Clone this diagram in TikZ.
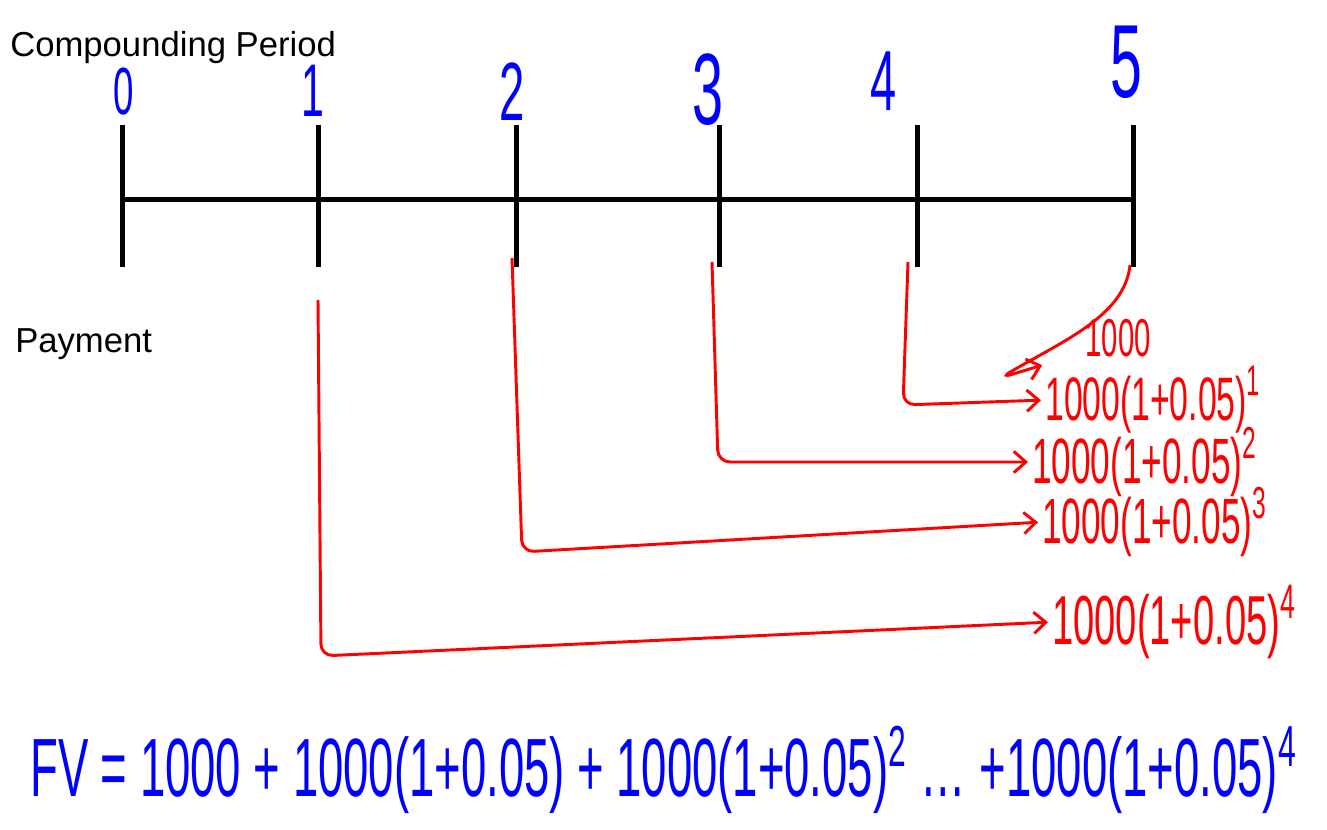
\documentclass[tikz,border=0pt]{standalone}
\usepackage{fontspec}
\setmainfont{Liberation Sans}
\newfontfamily\handfont[FakeStretch=0.55]{Liberation Sans}
\usetikzlibrary{arrows.meta, calc}
\definecolor{inkblack}{HTML}{000000}
\definecolor{inkblue}{HTML}{0000FF}
\definecolor{inkred}{HTML}{FF0000}
\newcommand\expo[1]{\textsuperscript{\raisebox{0.3em}{#1}}}
\tikzset{
  axis/.style={line width=3.75pt, inkblack},
  tickmark/.style={line width=3.75pt, inkblack},
  heading/.style={font=\fontsize{26}{30}\selectfont, text=inkblack, inner sep=0pt, anchor=base west},
  period/.style={font=\handfont\fontsize{#1}{#1}\selectfont, text=inkblue, inner sep=0pt, anchor=south},
  term/.style={font=\handfont\fontsize{#1}{#1}\selectfont, text=inkred, inner sep=0pt, anchor=west},
  flow/.style={-{Straight Barb[length=9pt,width=16pt,line width=2.2pt]}, line width=2.2pt, inkred,
    rounded corners=9pt, shorten >=3pt},
  sumline/.style={font=\handfont\fontsize{62}{68}\selectfont, text=inkblue, inner sep=0pt, anchor=west},
}

\begin{document}
\begin{tikzpicture}[x=0.75pt, y=-0.75pt]
\useasboundingbox (0,0) rectangle (1327,830);

% ── headings ────────────────────────────────────────────────────
\node[heading] (cphead)  at (10,57)  {Compounding Period};
\node[heading] (payhead) at (15,353) {Payment};

% ── time line ───────────────────────────────────────────────────
\coordinate (axisL) at (122,200);
\coordinate (axisR) at (1133,200);
\draw[axis] (axisL) -- (axisR);
\foreach \n/\x in {0/122, 1/318, 2/516, 3/719, 4/917, 5/1133} {
  \coordinate (top\n) at (\x,125);
  \coordinate (bot\n) at (\x,267);
  \draw[tickmark] (top\n) -- (bot\n);
}

% ── period numbers ──────────────────────────────────────────────
\node[period=50] (per0) at (124,115) {0};
\node[period=56] (per1) at (313,117) {1};
\node[period=62] (per2) at (512,121) {2};
\node[period=76] (per3) at (708,126) {3};
\node[period=64] (per4) at (884,111) {4};
\node[period=78] (per5) at (1126,99) {5};

% ── future values of each payment ───────────────────────────────
\node[term=40, anchor=center] (lab0) at (1118,338) {1000};
\node[term=46] (lab1) at (1045,400) {1000(1+0.05)\expo{1}};
\node[term=48] (lab2) at (1032,462) {1000(1+0.05)\expo{2}};
\node[term=48] (lab3) at (1042,522) {1000(1+0.05)\expo{3}};
\node[term=52] (lab4) at (1052,622) {1000(1+0.05)\expo{4}};

% ── payment connectors (hand-drawn style, red) ──────────────────
\coordinate (src1) at (318,300);
\coordinate (src2) at (512,258);
\coordinate (src3) at (712,262);
\coordinate (src4) at (908,262);
\coordinate (src5) at (1130,265);
\coordinate (bend1) at (321,656);
\coordinate (bend2) at (522,552);
\coordinate (bend3) at (718,462);
\coordinate (bend4) at (903,405);
\coordinate (bend5) at (1000,378);
\coordinate (tip5)  at (1046,364);

\draw[flow] (src5) .. controls (1125,315) and (1065,340) .. (bend5) -- (tip5);
\draw[flow] (src4) -- (bend4) -- (lab1.west);
\draw[flow] (src3) -- (bend3) -- (lab2.west);
\draw[flow] (src2) -- (bend2) -- (lab3.west);
\draw[flow] (src1) -- (bend1) -- (lab4.west);

% ── future value sum ────────────────────────────────────────────
\node[sumline] (fvsum) at (30,770)
  {FV = 1000 + 1000(1+0.05) + 1000(1+0.05)\expo{2}\,\dots\,+1000(1+0.05)\expo{4}};

\end{tikzpicture}
\end{document}
